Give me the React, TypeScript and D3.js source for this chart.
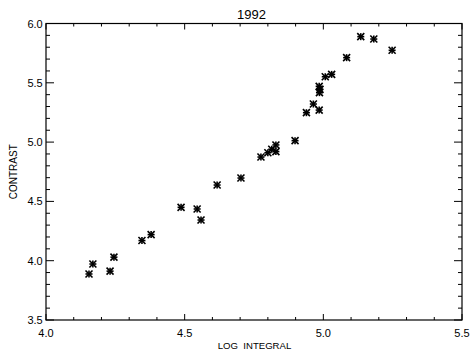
import React from "react";
import * as d3 from "d3";

const titleText = "1992";
const xLabel = "LOG  INTEGRAL";
const yLabel = "CONTRAST";
const xTicks = [4.0, 4.5, 5.0, 5.5];
const yTicks = [3.5, 4.0, 4.5, 5.0, 5.5, 6.0];

const logIntegral = [
  4.155, 4.169, 4.231, 4.245, 4.346, 4.379, 4.487, 4.545, 4.559, 4.617,
  4.703, 4.775, 4.8, 4.814, 4.829, 4.829, 4.898, 4.939, 4.964, 4.985,
  4.985, 4.988, 4.986, 5.007, 5.03, 5.084, 5.135, 5.182, 5.248,
];
const contrast = [
  3.888, 3.972, 3.912, 4.03, 4.17, 4.22, 4.45, 4.436, 4.343, 4.638,
  4.697, 4.874, 4.91, 4.94, 4.976, 4.92, 5.012, 5.248, 5.321, 5.27,
  5.47, 5.445, 5.417, 5.551, 5.571, 5.712, 5.889, 5.869, 5.774,
];

const W = 471;
const H = 354;
const L = 46, R = 462, T = 23.5, B = 320;

export default function App() {
  const x = d3.scaleLinear().domain([4.0, 5.5]).range([L, R]);
  const y = d3.scaleLinear().domain([3.5, 6.0]).range([B, T]);
  const minorX = d3.range(4.0, 5.5001, 0.1).map((v) => +v.toFixed(2));
  const minorY = d3.range(3.5, 6.0001, 0.1).map((v) => +v.toFixed(2));
  const isMajor = (v: number) => Math.abs(v * 2 - Math.round(v * 2)) < 1e-6;
  const font = "'Liberation Sans', Arial, sans-serif";
  const s = 3.5;
  return (
    <svg
      width={W}
      height={H}
      style={{ position: "fixed", left: 0, top: 0, background: "#fff" }}
      fontFamily={font}
    >
      <rect x={0} y={0} width={W} height={H} fill="#fff" />
      <rect x={L} y={T} width={R - L} height={B - T} fill="none" stroke="#000" strokeWidth={1.2} />
      {minorX.map((v, i) => {
        const len = isMajor(v) ? 6 : 3;
        return (
          <g key={"xt" + i} stroke="#000" strokeWidth={1}>
            <line x1={x(v)} x2={x(v)} y1={B} y2={B - len} />
            <line x1={x(v)} x2={x(v)} y1={T} y2={T + len} />
          </g>
        );
      })}
      {minorY.map((v, i) => {
        const len = isMajor(v) ? 8 : 4;
        return (
          <g key={"yt" + i} stroke="#000" strokeWidth={1}>
            <line x1={L} x2={L + len} y1={y(v)} y2={y(v)} />
            <line x1={R} x2={R - len} y1={y(v)} y2={y(v)} />
          </g>
        );
      })}
      {xTicks.map((v) => (
        <text key={"xl" + v} x={x(v)} y={B + 16.5} fontSize={11} textAnchor="middle" fill="#000">
          {v.toFixed(1)}
        </text>
      ))}
      {yTicks.map((v) => (
        <text key={"yl" + v} x={L - 3.3} y={y(v) + 4} fontSize={11} textAnchor="end" fill="#000">
          {v.toFixed(1)}
        </text>
      ))}
      <text x={251.5} y={19} fontSize={13} textAnchor="middle" fill="#000">
        {titleText}
      </text>
      <text
        x={254.5}
        y={349}
        fontSize={9.6}
        textAnchor="middle"
        fill="#000"
        style={{ whiteSpace: "pre" }}
      >
        {xLabel}
      </text>
      <text
        transform={`translate(17.3,${(T + B) / 2}) rotate(-90)`}
        fontSize={10}
        textAnchor="middle"
        fill="#000"
      >
        {yLabel}
      </text>
      {logIntegral.map((v, i) => {
        const cx = x(v);
        const cy = y(contrast[i]);
        return (
          <g key={"p" + i} stroke="#000" strokeWidth={1.6}>
            <line x1={cx - s} x2={cx + s} y1={cy} y2={cy} />
            <line x1={cx} x2={cx} y1={cy - s} y2={cy + s} />
            <line x1={cx - s} x2={cx + s} y1={cy - s} y2={cy + s} />
            <line x1={cx - s} x2={cx + s} y1={cy + s} y2={cy - s} />
          </g>
        );
      })}
    </svg>
  );
}
